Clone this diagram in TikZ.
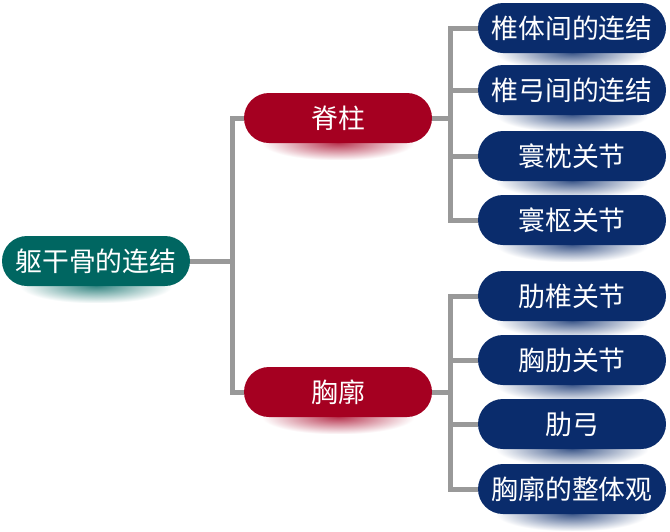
\documentclass[tikz,border=0pt]{standalone}
\usepackage{fontspec}
\newfontfamily\cjk{Noto Sans CJK SC}
\usetikzlibrary{positioning, fadings, backgrounds}
\definecolor{rootcol}{RGB}{0,102,97}
\definecolor{midcol}{RGB}{165,0,33}
\definecolor{leafcol}{RGB}{10,44,108}
\definecolor{linecol}{RGB}{153,153,153}
\tikzfading[name=glow, inner color=transparent!0, outer color=transparent!100]

\begin{document}
\begin{tikzpicture}[x=1pt, y=-1pt,
  pill/.style={rounded corners=25pt, minimum width=188pt, minimum height=50pt, inner sep=0pt,
    text=white, font=\cjk\fontsize{26.8}{30}\selectfont},
  link/.style={draw=linecol, line width=5pt, line join=miter}]
  \useasboundingbox (0,0) rectangle (670,531);
  \draw
    (96,261) node[pill, fill=rootcol] (root){躯干骨的连结}
    (338,118) node[pill, fill=midcol] (spine){脊柱}
    (338,392) node[pill, fill=midcol] (thorax){胸廓}
    (572,28) node[pill, fill=leafcol] (vbody){椎体间的连结}
    (572,90) node[pill, fill=leafcol] (varch){椎弓间的连结}
    (572,156) node[pill, fill=leafcol] (atoc){寰枕关节}
    (572,220) node[pill, fill=leafcol] (atax){寰枢关节}
    (572,296) node[pill, fill=leafcol] (cverte){肋椎关节}
    (572,360) node[pill, fill=leafcol] (cstern){胸肋关节}
    (572,424) node[pill, fill=leafcol] (carch){肋弓}
    (572,489) node[pill, fill=leafcol] (whole){胸廓的整体观};
  \coordinate (j0) at (232,261);
  \coordinate (j1) at (450,118);
  \coordinate (j2) at (450,392);
  \begin{scope}[on background layer]
    \foreach \n/\c in {root/rootcol, spine/midcol, thorax/midcol, vbody/leafcol, varch/leafcol,
        atoc/leafcol, atax/leafcol, cverte/leafcol, cstern/leafcol, carch/leafcol, whole/leafcol}
      \fill[\c!80, path fading=glow] ([xshift=18pt,yshift=18pt]\n.south west) rectangle ([xshift=-18pt,yshift=-17pt]\n.south east);
  \end{scope}
  \begin{scope}[link]
    \draw (root.east) -- (j0) |- (spine.west);
    \draw (j0) |- (thorax.west);
    \draw (spine.east) -- (j1);
    \draw (thorax.east) -- (j2);
    \foreach \n in {vbody, varch, atoc, atax}
      \draw (j1) |- (\n.west);
    \foreach \n in {cverte, cstern, carch, whole}
      \draw (j2) |- (\n.west);
  \end{scope}
\end{tikzpicture}
\end{document}
